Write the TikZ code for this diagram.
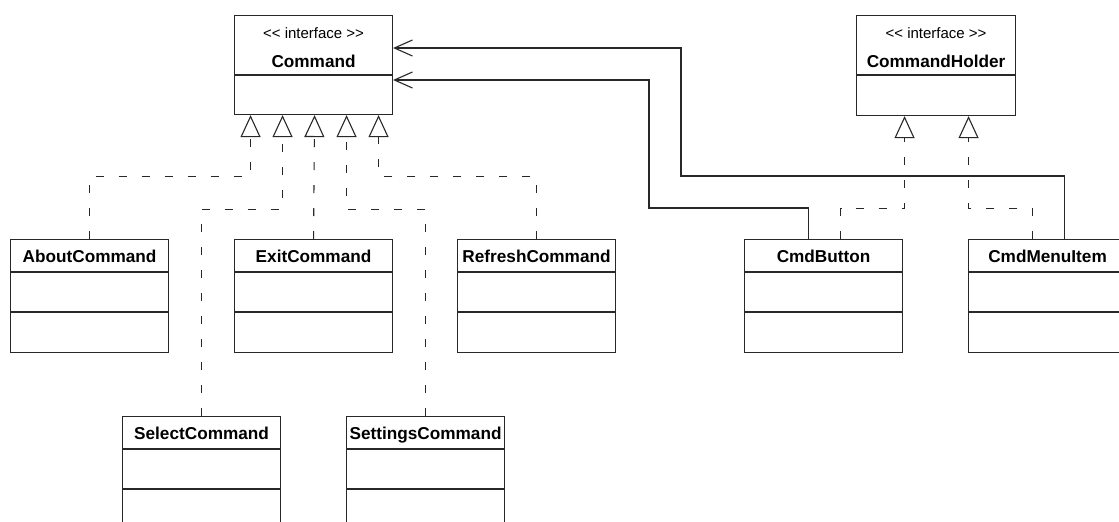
\documentclass[tikz,border=0pt]{standalone}
\usepackage{fontspec}
\setmainfont{Liberation Sans}
\usetikzlibrary{arrows.meta,calc}
\definecolor{ink}{RGB}{40,40,40}
\tikzset{
  ln/.style={draw=ink, line width=1.1pt},
  cls/.style={ln, rectangle, inner sep=0pt, anchor=north west, minimum width=158pt, minimum height=113pt},
  iface/.style={ln, rectangle, inner sep=0pt, anchor=north west, minimum width=158pt, minimum height=99pt},
  nm/.style={inner sep=0pt, anchor=base, font=\fontsize{17.2}{20}\selectfont\bfseries, text=black},
  stereo/.style={inner sep=0pt, anchor=base, font=\fontsize{15}{18}\selectfont, text=black},
  real/.style={ln, dash pattern=on 8pt off 15pt, -{Triangle[open, length=22pt, width=20pt, line width=1.1pt]}},
  assoc/.style={ln, -{Straight Barb[length=18pt, width=16pt, line width=1.1pt]}}
}
\newcommand{\umlbox}[4]{%
  \node[cls] (#1) at (#2,#3) {};
  \node[nm] (#1-t) at ($(#1.north)+(0,23)$) {#4};
  \draw[ln] ($(#1.north west)+(0,33)$) -- ($(#1.north east)+(0,33)$);
  \draw[ln] ($(#1.north west)+(0,73)$) -- ($(#1.north east)+(0,73)$);
}
\begin{document}
\begin{tikzpicture}[x=1pt,y=-1pt]
\useasboundingbox (0,0) rectangle (1119,522);
\fill[white] (0,0) rectangle (1119,522);
\clip (0,0) rectangle (1119,522);

% interfaces
\node[iface] (cmd) at (234,15) {};
\node[stereo] (cmd-s) at ($(cmd.north)+(0,23)$) {{<}{<} interface {>}{>}};
\node[nm] (cmd-t) at ($(cmd.north)+(0,52)$) {Command};
\draw[ln] (234,75) -- (392,75);

\node[iface, minimum width=159pt, minimum height=100pt] (holder) at (856,15) {};
\node[stereo] (holder-s) at ($(holder.north)+(0,23)$) {{<}{<} interface {>}{>}};
\node[nm] (holder-t) at ($(holder.north)+(0,52)$) {CommandHolder};
\draw[ln] (856,75) -- (1015,75);

% classes
\umlbox{about}{10}{239}{AboutCommand}
\umlbox{exit}{234}{239}{ExitCommand}
\umlbox{refresh}{457}{239}{RefreshCommand}
\umlbox{select}{122}{416}{SelectCommand}
\umlbox{settings}{346}{416}{SettingsCommand}
\umlbox{button}{744}{239}{CmdButton}
\umlbox{menu}{968}{239}{CmdMenuItem}

% triangle apex points
\coordinate (t1) at ($(cmd.south)+(-63,0)$);
\coordinate (t2) at ($(cmd.south)+(-31,0)$);
\coordinate (t3) at ($(cmd.south)+(1,0)$);
\coordinate (t4) at ($(cmd.south)+(33,0)$);
\coordinate (t5) at ($(cmd.south)+(65,0)$);
\coordinate (h1) at ($(holder.south)+(-31.5,0)$);
\coordinate (h2) at ($(holder.south)+(32.5,0)$);

% realizations
\draw[real] (about.north) |- ($(t1)+(0,61)$) -- (t1);
\draw[real] (select.north) |- ($(t2)+(0,94)$) -- (t2);
\draw[real] (exit.north) -- (t3);
\draw[real] (settings.north) |- ($(t4)+(0,94)$) -- (t4);
\draw[real] (refresh.north) |- ($(t5)+(0,61)$) -- (t5);
\draw[real] ($(button.north)+(17,0)$) |- ($(h1)+(0,92)$) -- (h1);
\draw[real] ($(menu.north)+(-15,0)$) |- ($(h2)+(0,92)$) -- (h2);

% associations
\coordinate (a1) at ($(cmd.north east)+(0,33)$);
\coordinate (a2) at ($(cmd.north east)+(0,65)$);
\draw[assoc] ($(menu.north)+(17,0)$) |- (681,176) |- (a1);
\draw[assoc] ($(button.north)+(-15,0)$) |- (649,208) |- (a2);
\end{tikzpicture}
\end{document}
